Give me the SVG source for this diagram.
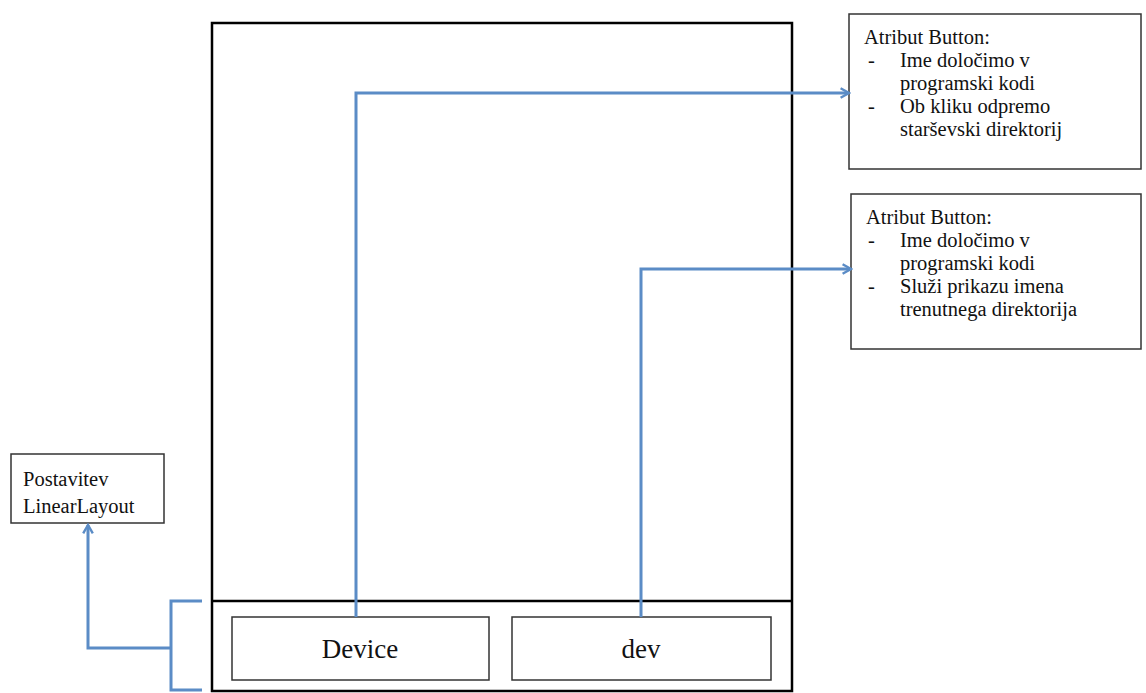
<svg xmlns="http://www.w3.org/2000/svg" width="1146" height="693" viewBox="0 0 1146 693">
<style>
.box{fill:#fff;stroke:#333;stroke-width:1.5}
.frame{fill:none;stroke:#000;stroke-width:2.5}
.t{font-size:20.5px;fill:#111}
.big{font-size:27px;fill:#111;text-anchor:middle}
.c{fill:none;stroke:#5b8cc6;stroke-width:3;stroke-linejoin:miter}
</style>
<defs>
<marker id="arr" viewBox="0 0 10 10" refX="8" refY="5" markerWidth="4" markerHeight="4" orient="auto" markerUnits="strokeWidth">
<path d="M1,1 L8,5 L1,9" fill="none" stroke="#5b8cc6" stroke-width="2"/>
</marker>
</defs>
<rect width="1146" height="693" fill="#fff"/>
<g id="phone">
<rect class="frame" x="212" y="23" width="580" height="668"/>
<line x1="212" y1="601" x2="792" y2="601" stroke="#000" stroke-width="2.5"/>
</g>
<g id="device" font-family="Liberation Serif, serif">
<rect class="box" x="232" y="617" width="257" height="63"/>
<text class="big" x="360" y="658" font-family="Liberation Serif, serif">Device</text>
</g>
<g id="dev" font-family="Liberation Serif, serif">
<rect class="box" x="512" y="617" width="259" height="63"/>
<text class="big" x="641" y="658" font-family="Liberation Serif, serif">dev</text>
</g>
<g id="attr1" font-family="Liberation Serif, serif">
<rect class="box" x="849" y="14" width="292" height="155"/>
<text class="t" x="864" y="44">Atribut Button:</text>
<text class="t" x="868" y="67">-</text>
<text class="t" x="900" y="67">Ime določimo v</text>
<text class="t" x="900" y="90">programski kodi</text>
<text class="t" x="868" y="113">-</text>
<text class="t" x="900" y="113">Ob kliku odpremo</text>
<text class="t" x="900" y="136">starševski direktorij</text>
</g>
<g id="attr2" font-family="Liberation Serif, serif">
<rect class="box" x="851" y="194" width="290" height="155"/>
<text class="t" x="866" y="224">Atribut Button:</text>
<text class="t" x="868" y="247">-</text>
<text class="t" x="900" y="247">Ime določimo v</text>
<text class="t" x="900" y="270">programski kodi</text>
<text class="t" x="868" y="293">-</text>
<text class="t" x="900" y="293">Služi prikazu imena</text>
<text class="t" x="900" y="316">trenutnega direktorija</text>
</g>
<g id="layout" font-family="Liberation Serif, serif">
<rect class="box" x="11" y="454" width="153" height="69"/>
<text class="t" x="23" y="486">Postavitev</text>
<text class="t" x="23" y="513">LinearLayout</text>
</g>
<g id="connectors">
<polyline class="c" points="356,617 356,93 849,93" marker-end="url(#arr)"/>
<polyline class="c" points="641,617 641,269 851,269" marker-end="url(#arr)"/>
<polyline class="c" points="202,601 171,601 171,690 202,690"/>
<polyline class="c" points="171,648 88,648 88,525" marker-end="url(#arr)"/>
</g>
</svg>
